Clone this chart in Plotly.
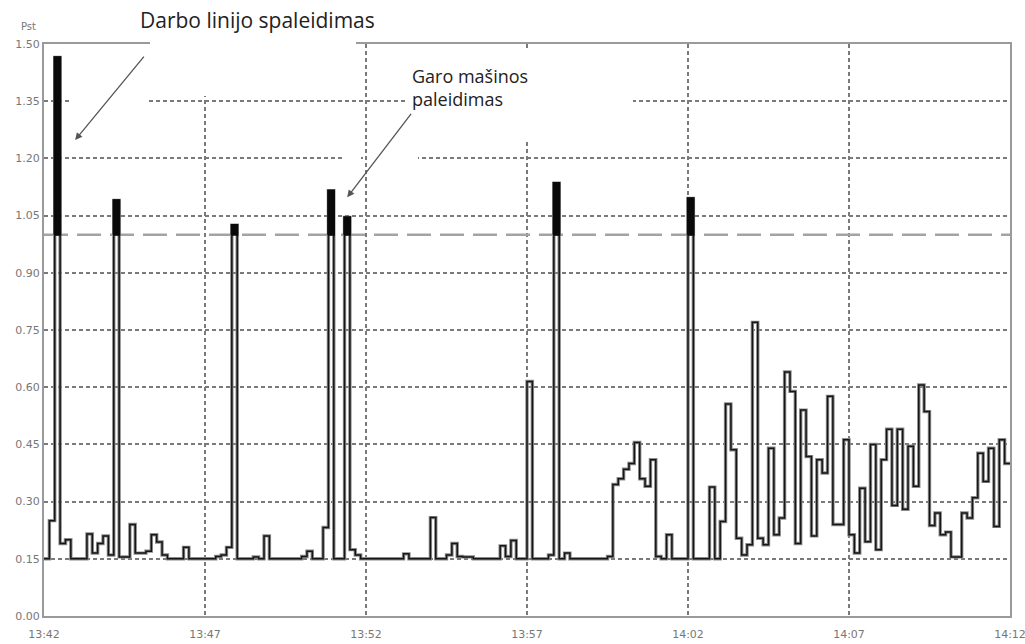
import plotly.graph_objects as go
import pandas as pd

# ---------------- data ----------------
start_time = "2021-01-01 13:42:00"
end_time = "2021-01-01 14:12:00"
sample_seconds = 10

pst = [
    0.15, 0.25, 1.465, 0.19, 0.20, 0.15, 0.15, 0.15, 0.215, 0.165,   # 0-9
    0.19, 0.21, 0.16, 1.09, 0.155, 0.155, 0.24, 0.165, 0.165, 0.17,  # 10-19
    0.213, 0.194, 0.16, 0.15, 0.15, 0.15, 0.18, 0.15, 0.15, 0.15,    # 20-29
    0.15, 0.15, 0.156, 0.16, 0.18, 1.025, 0.15, 0.15, 0.15, 0.155,   # 30-39
    0.15, 0.21, 0.15, 0.15, 0.15, 0.15, 0.15, 0.15, 0.156, 0.17,     # 40-49
    0.15, 0.15, 0.232, 1.115, 0.15, 0.15, 1.045, 0.174, 0.16, 0.15,  # 50-59
    0.15, 0.15, 0.15, 0.15, 0.15, 0.15, 0.15, 0.163, 0.15, 0.15,     # 60-69
    0.15, 0.15, 0.258, 0.15, 0.15, 0.16, 0.19, 0.156, 0.155, 0.155,  # 70-79
    0.15, 0.15, 0.15, 0.15, 0.15, 0.184, 0.156, 0.198, 0.15, 0.15,   # 80-89
    0.615, 0.15, 0.15, 0.15, 0.16, 1.135, 0.15, 0.165, 0.15, 0.15,   # 90-99
    0.15, 0.15, 0.15, 0.15, 0.15, 0.156, 0.345, 0.36, 0.385, 0.40,   # 100-109
    0.455, 0.36, 0.34, 0.41, 0.156, 0.15, 0.213, 0.15, 0.15, 0.15,   # 110-119
    1.095, 0.15, 0.15, 0.15, 0.338, 0.15, 0.248, 0.556, 0.436, 0.204,  # 120-129
    0.16, 0.187, 0.77, 0.204, 0.187, 0.44, 0.213, 0.257, 0.64, 0.589,  # 130-139
    0.19, 0.54, 0.418, 0.21, 0.41, 0.375, 0.576, 0.24, 0.24, 0.462,    # 140-149
    0.213, 0.165, 0.335, 0.195, 0.45, 0.174, 0.41, 0.49, 0.29, 0.49,   # 150-159
    0.28, 0.445, 0.34, 0.606, 0.536, 0.237, 0.27, 0.213, 0.22, 0.155,  # 160-169
    0.155, 0.27, 0.257, 0.31, 0.427, 0.353, 0.44, 0.235, 0.462, 0.40,  # 170-179
]
limit = 1.0
y_ticks = [0.00, 0.15, 0.30, 0.45, 0.60, 0.75, 0.90, 1.05, 1.20, 1.35, 1.50]
x_tick_labels = ["13:42", "13:47", "13:52", "13:57", "14:02", "14:07", "14:12"]
annot_1 = "Darbo linijo spaleidimas"
annot_2 = "Garo mašinos<br>paleidimas"
y_title = "Pst"

# ---------------- derived ----------------
step = pd.Timedelta(seconds=sample_seconds)
times = pd.date_range(start_time, periods=len(pst), freq=f"{sample_seconds}s")
t_step = list(times) + [pd.Timestamp(end_time)]
v_step = pst + [pst[-1]]
x_tick_vals = [pd.Timestamp("2021-01-01 " + s + ":00") for s in x_tick_labels]

# polygons for the part of each sample above the limit
poly_x, poly_y = [], []
for t, v in zip(times, pst):
    if v > limit:
        poly_x += [t, t, t + step, t + step, t, None]
        poly_y += [limit, v, v, limit, limit, None]

fig = go.Figure()

# limit dashed line
fig.add_trace(go.Scatter(
    x=[pd.Timestamp(start_time), pd.Timestamp(end_time)], y=[limit, limit],
    mode="lines", line=dict(color="#a3a3a3", width=2.5, dash="24px,9px"),
    hoverinfo="skip"))

# gray halo step line
fig.add_trace(go.Scatter(
    x=t_step, y=v_step, mode="lines", line_shape="hv",
    line=dict(color="#8c8c8c", width=3.4), hoverinfo="skip"))

# black step line
fig.add_trace(go.Scatter(
    x=t_step, y=v_step, mode="lines", line_shape="hv",
    line=dict(color="#151515", width=1.5)))

# black fill above the limit
fig.add_trace(go.Scatter(
    x=poly_x, y=poly_y, mode="lines", fill="toself",
    fillcolor="#0a0a0a", line=dict(color="#0a0a0a", width=2.4),
    hoverinfo="skip"))

W, H = 1025, 644
ml, mr, mt, mb = 44, 15, 44, 28
pw, ph = W - ml - mr, H - mt - mb


def px_x(p):
    return (p - ml) / pw


def px_y(p):
    return (H - mb - p) / ph


white_boxes = [
    (150, 356, 0, 96),
    (70, 147, 48, 110),
    (407, 633, 48, 140),
    (343, 361, 150, 166),
    (367, 418, 150, 166),
]
shapes = []
for x0, x1, y0, y1 in white_boxes:
    shapes.append(dict(type="rect", xref="paper", yref="paper",
                       x0=px_x(x0), x1=px_x(x1), y0=px_y(y1), y1=px_y(y0),
                       fillcolor="white", line=dict(width=0), layer="above"))

annotations = [
    dict(xref="paper", yref="paper", x=px_x(257), y=px_y(20), text=annot_1,
         showarrow=False,
         font=dict(family="Open Sans, sans-serif", size=21, color="#222222"),
         xanchor="center", yanchor="middle"),
    dict(xref="paper", yref="paper", x=px_x(410), y=px_y(87), text=annot_2,
         showarrow=False,
         font=dict(family="Open Sans, sans-serif", size=18, color="#222222"),
         xanchor="left", yanchor="middle", align="left"),
    dict(xref="paper", yref="paper", x=px_x(28), y=px_y(27), text=y_title,
         showarrow=False, font=dict(family="DejaVu Sans", size=10, color="#777777"),
         xanchor="center", yanchor="middle"),
    dict(xref="x", yref="y", x=pd.Timestamp("2021-01-01 13:42:58"), y=1.248,
         text="", showarrow=True, arrowhead=2, arrowsize=1.1, arrowwidth=1.3,
         arrowcolor="#555555", ax=70, ay=-85),
    dict(xref="x", yref="y", x=pd.Timestamp("2021-01-01 13:51:25"), y=1.098,
         text="", showarrow=True, arrowhead=2, arrowsize=1.1, arrowwidth=1.3,
         arrowcolor="#555555", ax=65, ay=-85),
]

tick_font = dict(family="DejaVu Sans", size=11, color="#777777")
fig.update_layout(
    width=W, height=H,
    margin=dict(l=ml, r=mr, t=mt, b=mb, autoexpand=False),
    plot_bgcolor="white", paper_bgcolor="white",
    showlegend=False,
    shapes=shapes, annotations=annotations,
    xaxis=dict(
        type="date",
        range=[pd.Timestamp(start_time), pd.Timestamp(end_time)],
        tickvals=x_tick_vals, ticktext=x_tick_labels,
        showgrid=True, gridcolor="#7a7a7a", gridwidth=1.5, griddash="4px,3px",
        showline=True, mirror=True, linecolor="#9a9a9a", linewidth=2,
        ticks="outside", ticklen=7, tickcolor="rgba(0,0,0,0)",
        tickfont=tick_font, zeroline=False, fixedrange=True,
        ticklabeloverflow="allow", automargin=False,
    ),
    yaxis=dict(
        range=[0, 1.5], tickvals=y_ticks,
        ticktext=[f"{v:.2f}" for v in y_ticks],
        showgrid=True, gridcolor="#7a7a7a", gridwidth=1.5, griddash="4px,3px",
        showline=True, mirror=True, linecolor="#9a9a9a", linewidth=2,
        ticks="", tickfont=tick_font, zeroline=False, fixedrange=True,
        automargin=False,
    ),
)

fig.write_html("out.html")
